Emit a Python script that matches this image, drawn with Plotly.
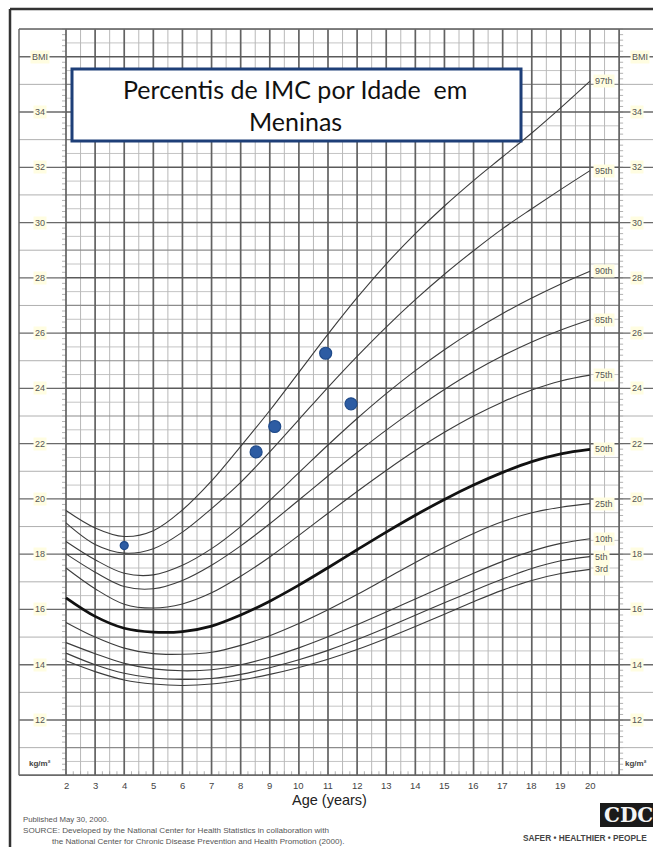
import plotly.graph_objects as go

W, H = 653, 847

# ---------------- data ----------------
ages = list(range(2, 21))
p3  = [14.14, 13.75, 13.45, 13.30, 13.25, 13.30, 13.45, 13.65, 13.90, 14.20, 14.55, 14.95, 15.38, 15.83, 16.28, 16.70, 17.05, 17.30, 17.45]
p5  = [14.42, 14.00, 13.69, 13.52, 13.47, 13.50, 13.65, 13.89, 14.18, 14.52, 14.91, 15.34, 15.79, 16.24, 16.68, 17.10, 17.48, 17.76, 17.91]
p10 = [14.80, 14.40, 14.05, 13.85, 13.78, 13.82, 14.00, 14.27, 14.61, 15.01, 15.45, 15.91, 16.38, 16.85, 17.31, 17.74, 18.11, 18.39, 18.56]
p25 = [15.53, 15.00, 14.60, 14.40, 14.38, 14.45, 14.70, 15.05, 15.49, 15.99, 16.54, 17.12, 17.70, 18.25, 18.75, 19.18, 19.50, 19.70, 19.83]
p50 = [16.42, 15.75, 15.32, 15.18, 15.20, 15.40, 15.80, 16.30, 16.88, 17.51, 18.16, 18.80, 19.41, 19.98, 20.50, 20.96, 21.35, 21.63, 21.79]
p75 = [17.50, 16.75, 16.19, 16.05, 16.20, 16.60, 17.20, 17.90, 18.68, 19.48, 20.27, 21.03, 21.75, 22.41, 23.00, 23.51, 23.94, 24.27, 24.48]
p85 = [18.01, 17.35, 16.83, 16.75, 17.05, 17.60, 18.30, 19.10, 19.96, 20.83, 21.68, 22.49, 23.25, 23.96, 24.61, 25.18, 25.68, 26.11, 26.48]
p90 = [18.46, 17.80, 17.31, 17.25, 17.60, 18.20, 19.00, 19.95, 20.95, 21.95, 22.91, 23.81, 24.64, 25.40, 26.09, 26.71, 27.27, 27.78, 28.24]
p95 = [19.13, 18.35, 18.04, 18.20, 18.80, 19.65, 20.60, 21.70, 22.87, 24.04, 25.16, 26.22, 27.21, 28.13, 28.98, 29.78, 30.50, 31.20, 31.88]
p97 = [19.58, 18.95, 18.64, 18.85, 19.60, 20.65, 21.90, 23.20, 24.58, 25.96, 27.28, 28.50, 29.60, 30.60, 31.52, 32.38, 33.24, 34.16, 35.12]

percentile_names = ["3rd", "5th", "10th", "25th", "50th", "75th", "85th", "90th", "95th", "97th"]
percentile_values = [p3, p5, p10, p25, p50, p75, p85, p90, p95, p97]

patient_age = [4.0, 8.53, 9.17, 10.92, 11.79]
patient_bmi = [18.31, 21.70, 22.62, 25.27, 23.44]

age_ticks = list(range(2, 21))
bmi_ticks = list(range(12, 35, 2))

title_lines = ["Percentis de IMC por Idade  em", "Meninas"]

# ---------------- geometry helpers ----------------
XS = 524.0 / 18.0        # px per year
YS = 27.636              # px per BMI unit
def ax(xpx):  # pixel -> age
    return 2 + (xpx - 66) / XS
def by(ypx):  # pixel -> bmi
    return 12 + (720 - ypx) / YS
def pxp(x):
    return x / W
def pyp(y):
    return 1 - y / H

AGE_L, AGE_R = 2.0, 21.0
BMI_B, BMI_T = 10.0, 37.0
COL_L = ax(19)
COL_R = ax(W + 2)

fig = go.Figure()

def add_lines(segs, color, width):
    xs, ys = [], []
    for (x0, y0, x1, y1) in segs:
        xs += [x0, x1, None]
        ys += [y0, y1, None]
    fig.add_trace(go.Scatter(x=xs, y=ys, mode="lines", line=dict(color=color, width=width),
                             hoverinfo="skip", showlegend=False))

# vertical grid lines
half_v = [(AGE_L + k * 0.5, BMI_B, AGE_L + k * 0.5, BMI_T) for k in range(0, 39) if k % 2 == 1]
int_v = [(a, BMI_B, a, BMI_T) for a in range(2, 22)]
# horizontal grid lines
half_h = [(AGE_L, BMI_B + k * 0.5, AGE_R, BMI_B + k * 0.5) for k in range(0, 55) if k % 2 == 1]
odd_h = [(AGE_L, b, AGE_R, b) for b in range(11, 38, 2)]
even_h = [(AGE_L, b, AGE_R, b) for b in range(10, 38, 2)]
# side columns
side_odd = [(COL_L, b, AGE_L, b) for b in range(11, 38, 2)] + [(AGE_R, b, COL_R, b) for b in range(11, 38, 2)]
side_even = [(COL_L, b, AGE_L, b) for b in range(10, 38, 2)] + [(AGE_R, b, COL_R, b) for b in range(10, 38, 2)]
# ruler ticks
ticks = []
for k in range(0, 136):
    b = BMI_B + k * 0.2
    ticks.append((AGE_L - 4 / XS, b, AGE_L, b))
    ticks.append((AGE_R, b, AGE_R + 4 / XS, b))
for k in range(0, 77):
    a = AGE_L + k * 0.25
    ticks.append((a, BMI_B, a, BMI_B + 4 / YS))

add_lines(half_h, "#c4c4c4", 1)
add_lines(half_v, "#b8b8b8", 1)
add_lines(ticks, "#a0a0a0", 0.8)
add_lines(side_odd, "#b0b0b0", 1)
add_lines(odd_h, "#8c8c8c", 1.2)
add_lines(int_v, "#626262", 1.7)
add_lines(side_even, "#6a6a6a", 1.3)
add_lines(even_h, "#5a5a5a", 1.5)
# borders of grid
add_lines([(COL_L, BMI_B, COL_L, BMI_T), (COL_L, BMI_T, COL_R, BMI_T), (COL_L, BMI_B, COL_R, BMI_B)],
          "#6a6a6a", 1.5)

# percentile curves
for name, vals in zip(percentile_names, percentile_values):
    is50 = name == "50th"
    fig.add_trace(go.Scatter(
        x=ages, y=vals, mode="lines", line_shape="spline",
        line=dict(color="#111111" if is50 else "#3c3c3c", width=2.8 if is50 else 1.1),
        hoverinfo="skip", showlegend=False))

# patient points
fig.add_trace(go.Scatter(
    x=patient_age, y=patient_bmi, mode="markers",
    marker=dict(size=[8, 12, 12, 12, 12], color="#2D5CA3", opacity=1,
                line=dict(color="#1F4A8A", width=1.2)),
    showlegend=False, hoverinfo="skip"))

annotations = []
LBG = "#FFFDE1"
FONT = "Liberation Sans, Arial"

def ann(x, y, text, size, color, xref="x", yref="y", xanchor="center", family=FONT, bgcolor=None, borderpad=1):
    d = dict(x=x, y=y, xref=xref, yref=yref, text=text, showarrow=False,
             xanchor=xanchor, yanchor="middle",
             font=dict(family=family, size=size, color=color), borderpad=borderpad)
    if bgcolor:
        d["bgcolor"] = bgcolor
    annotations.append(d)

# side BMI labels
for b in bmi_ticks:
    for xx in (ax(40), ax(637)):
        ann(xx, b, str(b), 9, "#555555", bgcolor=LBG)
for xx in (ax(40), ax(640)):
    ann(xx, 36, "BMI", 9, "#555555", bgcolor=LBG)
for xx in (ax(40), ax(636)):
    ann(xx, by(763), "<b>kg/m²</b>", 8, "#444444", bgcolor="#ffffff", borderpad=0)
# percentile labels
for name, vals in zip(percentile_names, percentile_values):
    ann(ax(593), vals[-1], name, 9, "#555555", xanchor="left", bgcolor=LBG)
# age tick labels
for a in age_ticks:
    ann(a, by(785), str(a), 9.5, "#444444")
ann(pxp(329), pyp(800), "Age (years)", 14.5, "#222222", xref="paper", yref="paper")
# footnotes
foot = [
    (21, 819, "Published May 30, 2000.", 7.8),
    (21, 830, "SOURCE: Developed by the National Center for Health Statistics in collaboration with", 8.1),
    (50, 841, "the National Center for Chronic Disease Prevention and Health Promotion (2000).", 8.1),
]
for (fx, fy, t, fs) in foot:
    ann(pxp(fx), pyp(fy), t, fs, "#555555", xref="paper", yref="paper", xanchor="left")
ann(pxp(521), pyp(838), "<b>SAFER • HEALTHIER • PEOPLE</b>", 8.3, "#444444", xref="paper", yref="paper", xanchor="left")
ann(pxp(602), pyp(815), "<b>CDC</b>", 20, "#f4f4f4", xref="paper", yref="paper", xanchor="left", family="DejaVu Serif")
# title
ann(pxp(295), pyp(89), title_lines[0], 25, "#111111", xref="paper", yref="paper", family="Lato, Open Sans")
ann(pxp(295), pyp(121), title_lines[1], 25, "#111111", xref="paper", yref="paper", family="Lato, Open Sans")

shapes = [
    # title box
    dict(type="rect", xref="paper", yref="paper", x0=pxp(72), x1=pxp(521), y0=pyp(69), y1=pyp(141),
         fillcolor="#ffffff", line=dict(color="#1E3F78", width=3), layer="above"),
    # CDC logo box
    dict(type="rect", xref="paper", yref="paper", x0=pxp(600), x1=pxp(W + 2), y0=pyp(803), y1=pyp(827),
         fillcolor="#1a1a1a", line=dict(width=0), layer="below"),
    # outer frame (left & top)
    dict(type="line", xref="paper", yref="paper", x0=pxp(10), x1=pxp(10), y0=pyp(9), y1=pyp(H + 2),
         line=dict(color="#333333", width=2.5)),
    dict(type="line", xref="paper", yref="paper", x0=pxp(10), x1=pxp(W + 2), y0=pyp(9), y1=pyp(9),
         line=dict(color="#333333", width=2.5)),
]

fig.update_layout(
    width=W, height=H,
    margin=dict(l=0, r=0, t=0, b=0),
    paper_bgcolor="#ffffff", plot_bgcolor="#ffffff",
    xaxis=dict(range=[ax(0), ax(W)], visible=False, fixedrange=True),
    yaxis=dict(range=[by(H), by(0)], visible=False, fixedrange=True),
    annotations=annotations, shapes=shapes, showlegend=False,
)

fig.write_html("out.html", config={"displayModeBar": False},
               post_script="document.body.style.margin='0';document.body.style.overflow='hidden';")
